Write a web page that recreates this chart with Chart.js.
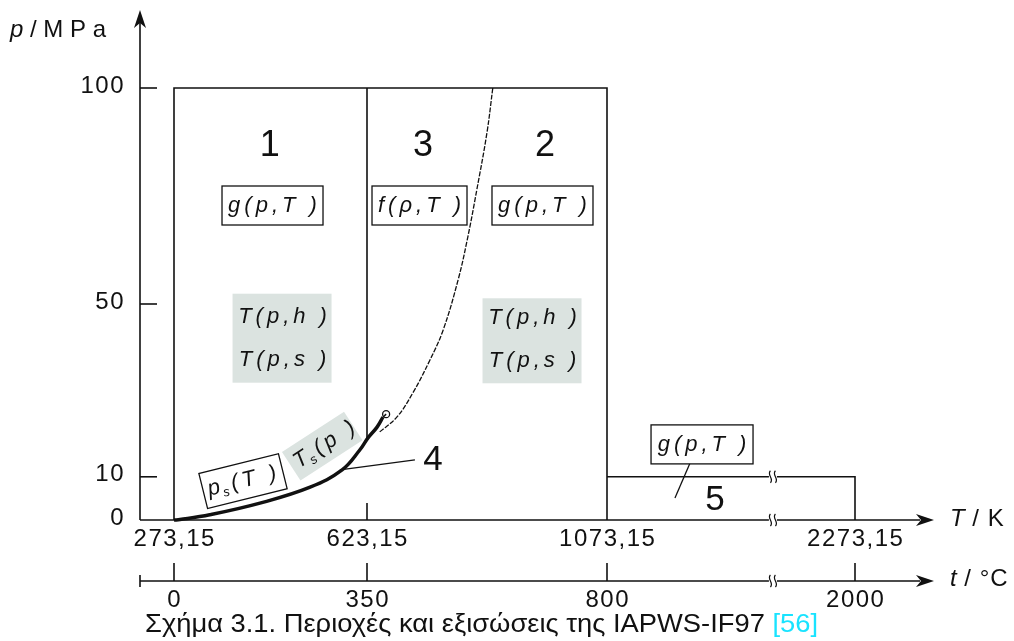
<!DOCTYPE html>
<html>
<head>
<meta charset="utf-8">
<script src="https://cdn.jsdelivr.net/npm/chart.js@4.4.0/dist/chart.umd.min.js"></script>
<style>
  html, body { margin: 0; padding: 0; background: #fff; }
  canvas { display: block; }
</style>
</head>
<body>
<canvas id="chart" width="1014" height="641"></canvas>
<script>
// T axis ticks (K) and the matching t axis (°C)
const tempK = [273.15, 623.15, 1073.15, 2273.15];
const tempKLabels = ['273,15', '623,15', '1073,15', '2273,15'];
const tempCLabels = ['0', '350', '800', '2000'];
const pressureTicks = [100, 50, 10, 0];

// saturation line p_s(T) / T_s(p), region 4 (schematic)
const satT = [273.15, 284, 338, 429, 520, 578, 610, 625, 642, 653];
const satP = [0, 0.1, 1.2, 3.9, 7.6, 11.6, 16.2, 19.0, 21.5, 23.8];
const critT = [659];
const critP = [24.5];

// boundary between region 2 and region 3
const b23T = [647, 679, 709, 741, 766, 794, 811, 829, 848, 859];
const b23P = [20.4, 23.8, 29.4, 37.0, 44.0, 55.6, 64.8, 76.4, 89.6, 100];

// region limits
const pMax = 100;
const p5Max = 10;
const p623 = 18.6; // where the 623,15 K line meets the saturation line

// the T axis is drawn broken, so each tick sits at its own offset (px from 273,15 K)
const tickOffset = [0, 193, 433, 681];
const xu = (T) => {
  let i = 0;
  while (i < tempK.length - 2 && T > tempK[i + 1]) i++;
  const f = (T - tempK[i]) / (tempK[i + 1] - tempK[i]);
  return tickOffset[i] + f * (tickOffset[i + 1] - tickOffset[i]);
};
const pts = (ts, ps) => ts.map((t, i) => ({ x: xu(t), y: ps[i] }));

const INK = '#111';
const FONT = '"Liberation Sans", Arial, sans-serif';
const SHADE = '#dbe3e0';

const text = (ctx, str, x, y, size, opts = {}) => {
  ctx.save();
  ctx.font = `${opts.italic ? 'italic ' : ''}${size}px ${FONT}`;
  ctx.letterSpacing = (opts.spacing || 0) + 'px';
  ctx.textAlign = opts.align || 'center';
  ctx.textBaseline = 'middle';
  ctx.fillStyle = opts.color || INK;
  const w = ctx.measureText(str).width;
  const dx = ctx.textAlign === 'center' ? (opts.spacing || 0) / 2 : 0;
  ctx.fillText(str, x + dx, y);
  ctx.restore();
  return w;
};

const arrowRight = (ctx, x, y) => {
  ctx.beginPath();
  ctx.moveTo(x, y);
  ctx.lineTo(x - 18, y - 6);
  ctx.lineTo(x - 13, y);
  ctx.lineTo(x - 18, y + 6);
  ctx.closePath();
  ctx.fill();
};

const breakMark = (ctx, x, y) => {
  ctx.save();
  ctx.fillStyle = '#fff';
  ctx.fillRect(x - 4, y - 3, 8, 6);
  ctx.strokeStyle = INK;
  ctx.lineWidth = 1.2;
  [-2.5, 2.5].forEach((d) => {
    ctx.beginPath();
    ctx.moveTo(x + d, y - 6);
    ctx.bezierCurveTo(x + d - 4, y - 2, x + d + 4, y + 2, x + d, y + 6);
    ctx.stroke();
  });
  ctx.restore();
};

const rotated = (ctx, draw, cx, cy, w, h, angle, fill, border) => {
  ctx.save();
  ctx.translate(cx, cy);
  ctx.rotate(angle * Math.PI / 180);
  if (fill) {
    ctx.fillStyle = fill;
    ctx.fillRect(-w / 2, -h / 2, w, h);
  }
  if (border) {
    ctx.strokeStyle = INK;
    ctx.lineWidth = 1.3;
    ctx.strokeRect(-w / 2, -h / 2, w, h);
  }
  draw(ctx);
  ctx.restore();
};

// "Xs(Y )" with a subscript s
const subLabel = (main, rest, x0) => (c) => {
  c.fillStyle = INK;
  c.textBaseline = 'middle';
  c.letterSpacing = '4px';
  c.font = `italic 22px ${FONT}`;
  c.fillText(main, x0, 0);
  c.font = `italic 13px ${FONT}`;
  c.fillText('s', x0 + 14, 7);
  c.font = `italic 22px ${FONT}`;
  c.fillText(rest, x0 + 24, 0);
};

const diagram = {
  id: 'diagram',
  beforeDatasetsDraw(chart) {
    const { ctx } = chart;
    const X = (T) => chart.scales.x.getPixelForValue(xu(T));
    const Y = (p) => chart.scales.y.getPixelForValue(p);
    // shaded backward-equation boxes
    ctx.fillStyle = SHADE;
    ctx.fillRect(X(470) - 50, Y(42.2) - 44, 99, 89);
    ctx.fillRect(X(933.5) - 50, Y(41.6) - 42, 99, 85);
    rotated(ctx, () => {}, X(542), Y(17.1), 74, 34, -33, SHADE, false);
  },
  afterDatasetsDraw(chart) {
    const { ctx } = chart;
    const xs = chart.scales.x;
    const X = (T) => xs.getPixelForValue(xu(T));
    const Y = (p) => chart.scales.y.getPixelForValue(p);
    const axisX = xs.getPixelForValue(-34);
    const y0 = Y(0);
    const yC = y0 + 61;
    const xEnd = 934;
    const xBreak = X(1876);

    ctx.save();
    ctx.strokeStyle = INK;
    ctx.fillStyle = INK;
    ctx.lineWidth = 1.6;

    // p axis
    ctx.beginPath();
    ctx.moveTo(axisX, y0);
    ctx.lineTo(axisX, 22);
    ctx.stroke();
    ctx.beginPath();
    ctx.moveTo(axisX, 10);
    ctx.lineTo(axisX - 6, 28);
    ctx.lineTo(axisX, 23);
    ctx.lineTo(axisX + 6, 28);
    ctx.closePath();
    ctx.fill();
    pressureTicks.forEach((p) => {
      if (p > 0) {
        ctx.beginPath();
        ctx.moveTo(axisX, Y(p));
        ctx.lineTo(axisX + 17, Y(p));
        ctx.stroke();
      }
      text(ctx, String(p), axisX - 15, Y(p) - 2, 24, { align: 'right', spacing: 1.5 });
    });
    // p / MPa
    let w = text(ctx, 'p', 10, 30, 24, { italic: true, align: 'left' });
    text(ctx, ' / M P a', 10 + w, 30, 24, { align: 'left' });

    // T axis
    ctx.beginPath();
    ctx.moveTo(axisX, y0);
    ctx.lineTo(xEnd - 14, y0);
    ctx.stroke();
    arrowRight(ctx, xEnd, y0);
    ctx.beginPath();
    ctx.moveTo(X(623.15), y0);
    ctx.lineTo(X(623.15), y0 - 17);
    ctx.stroke();
    tempK.forEach((t, i) => {
      text(ctx, tempKLabels[i], X(t), y0 + 19, 24, { spacing: 1.5 });
    });
    w = text(ctx, 'T', 950, y0 - 1, 24, { italic: true, align: 'left' });
    text(ctx, ' / K', 950 + w, y0 - 1, 24, { align: 'left', spacing: 1 });

    // t axis (°C)
    ctx.beginPath();
    ctx.moveTo(axisX, yC);
    ctx.lineTo(xEnd - 14, yC);
    ctx.moveTo(axisX, yC - 6);
    ctx.lineTo(axisX, yC + 6);
    ctx.stroke();
    arrowRight(ctx, xEnd, yC);
    tempK.forEach((t, i) => {
      ctx.beginPath();
      ctx.moveTo(X(t), yC);
      ctx.lineTo(X(t), yC - 18);
      ctx.stroke();
      text(ctx, tempCLabels[i], X(t), yC + 19, 24, { spacing: 1.5 });
    });
    w = text(ctx, 't', 950, yC - 2, 24, { italic: true, align: 'left' });
    text(ctx, ' / °C', 950 + w, yC - 2, 24, { align: 'left', spacing: 1 });

    // broken axis marks
    breakMark(ctx, xBreak, Y(p5Max));
    breakMark(ctx, xBreak, y0);
    breakMark(ctx, xBreak, yC);

    // region numbers
    text(ctx, '1', X(447), Y(86.5), 36);
    text(ctx, '3', X(728), Y(86.5), 36);
    text(ctx, '2', X(957), Y(86.5), 36);
    text(ctx, '4', X(747), Y(13.9), 35);
    text(ctx, '5', X(1596), Y(4.6), 35);

    // basic equations
    const eq = (str, T, p, bw) => {
      const cx = X(T), cy = Y(p);
      ctx.fillStyle = '#fff';
      ctx.fillRect(cx - bw / 2, cy - 19.5, bw, 39);
      ctx.lineWidth = 1.3;
      ctx.strokeRect(cx - bw / 2, cy - 19.5, bw, 39);
      text(ctx, str, cx, cy, 22, { italic: true, spacing: 4 });
    };
    eq('g(p,T )', 451.8, 72.8, 101);
    eq('f(ρ,T )', 721.6, 72.8, 95);
    eq('g(p,T )', 952.2, 72.8, 101);
    eq('g(p,T )', 1533, 17.5, 102);

    // backward equations
    ['T(p,h )', 'T(p,s )'].forEach((s, i) => {
      text(ctx, s, X(470), Y(42.2) - 21 + i * 43, 22, { italic: true, spacing: 4 });
      text(ctx, s, X(933.5), Y(41.6) - 22 + i * 43, 22, { italic: true, spacing: 4 });
    });
    rotated(ctx, subLabel('T', '(p )', -32), X(542), Y(17.1), 74, 34, -33, null, false);
    rotated(ctx, subLabel('p', '(T )', -36), X(398.3), Y(9.0), 82, 36, -14, '#fff', true);

    // caption
    ctx.font = `25px ${FONT}`;
    ctx.letterSpacing = '0px';
    ctx.textBaseline = 'middle';
    ctx.textAlign = 'left';
    const cap1 = 'Σχήμα 3.1. Περιοχές και εξισώσεις της IAPWS-IF97 ';
    const cap2 = '[56]';
    const w1 = ctx.measureText(cap1).width;
    const w2 = ctx.measureText(cap2).width;
    const sx = 673 / (w1 + w2);
    ctx.save();
    ctx.translate(145, 625);
    ctx.scale(sx, 1);
    ctx.fillStyle = INK;
    ctx.fillText(cap1, 0, 0);
    ctx.fillStyle = '#19e3ff';
    ctx.fillText(cap2, w1, 0);
    ctx.restore();

    ctx.restore();
  }
};

const line = (data, extra = {}) => Object.assign({
  data,
  showLine: true,
  borderColor: INK,
  borderWidth: 1.6,
  pointRadius: 0,
  fill: false,
}, extra);

const ctx = document.getElementById('chart').getContext('2d');
const chart = new Chart(ctx, {
  type: 'scatter',
  data: {
    datasets: [
      // regions 1, 3, 2 outline
      line(pts([273.15, 273.15, 1073.15, 1073.15], [0, pMax, pMax, 0])),
      line(pts([623.15, 623.15], [pMax, p623])),
      // region 5
      line(pts([1073.15, 2273.15, 2273.15], [p5Max, p5Max, 0])),
      // B23 line
      line(pts(b23T, b23P), { borderWidth: 1.3, borderDash: [5, 1.5], tension: 0.4 }),
      // saturation line
      line(pts(satT, satP), { borderWidth: 3.5, tension: 0.4 }),
      line(pts([653, critT[0]], [23.8, critP[0]]), { borderWidth: 1.5 }),
      line(pts(critT, critP), {
        showLine: false, pointRadius: 3.5, pointBackgroundColor: '#fff',
        pointBorderColor: INK, pointBorderWidth: 1.3,
      }),
      // leader lines for 4 and 5
      line(pts([574, 713], [11.6, 13.9]), { borderWidth: 1.3 }),
      line(pts([1475, 1402], [13.2, 5.1]), { borderWidth: 1.3 }),
    ],
  },
  options: {
    responsive: false,
    animation: false,
    events: [],
    layout: { padding: 0, autoPadding: false },
    plugins: { legend: { display: false }, tooltip: { enabled: false } },
    scales: {
      x: { type: 'linear', display: false, min: -174, max: 840 },
      y: { type: 'linear', display: false, min: -28.01, max: 120.37 },
    },
  },
  plugins: [diagram],
});
</script>
</body>
</html>
